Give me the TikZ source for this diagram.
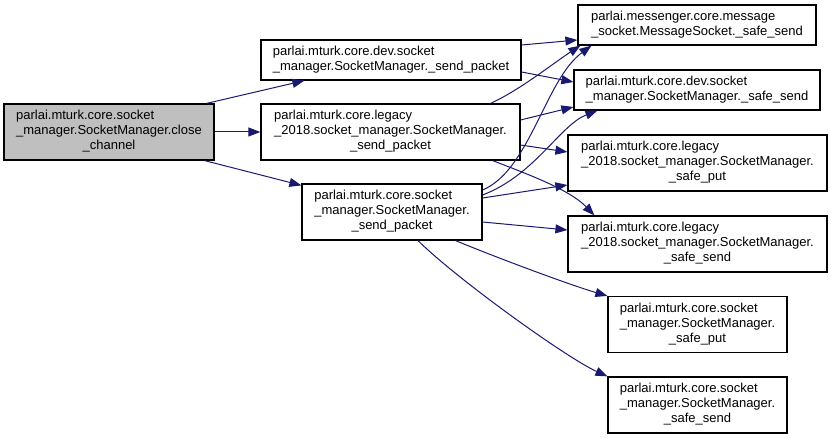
\documentclass[tikz,border=0pt]{standalone}
\usepackage{fontspec}
\setmainfont{Liberation Sans}
\usetikzlibrary{arrows.meta}
\definecolor{edgeblue}{HTML}{191970}
\definecolor{nodegray}{HTML}{BFBFBF}
\newcommand{\twolbl}[2]{\begin{tabular}{@{}l@{}}#1\\#2\end{tabular}}
\newcommand{\threelbl}[3]{\begin{tabular}{@{}l@{}}#1\\#2\\\multicolumn{1}{@{}c@{}}{#3}\end{tabular}}
\begin{document}
\begin{tikzpicture}[x=1pt,y=-1pt,
  font=\fontsize{13}{15}\selectfont,
  box/.style={draw=black, line width=1.2pt, fill=white, inner sep=0pt, rectangle},
  edge/.style={draw=edgeblue, line width=1pt, -{Triangle[length=12pt,width=9pt]}, fill=none}]
\useasboundingbox (0,0) rectangle (831,438);
% nodes
\node[box, fill=nodegray, minimum width=210pt, minimum height=56pt] (A) at (109,132)
  {\threelbl{parlai.mturk.core.socket}{\_manager.SocketManager.close}{\_channel}};
\node[box, minimum width=260pt, minimum height=40pt] (B) at (391,60)
  {\twolbl{parlai.mturk.core.dev.socket}{\_manager.SocketManager.\_send\_packet}};
\node[box, minimum width=259pt, minimum height=56pt] (C) at (390.5,132)
  {\threelbl{parlai.mturk.core.legacy}{\_2018.socket\_manager.SocketManager.}{\_send\_packet}};
\node[box, minimum width=180pt, minimum height=56pt] (D) at (392,212)
  {\threelbl{parlai.mturk.core.socket}{\_manager.SocketManager.}{\_send\_packet}};
\node[box, minimum width=238pt, minimum height=40pt] (E) at (697,25)
  {\twolbl{parlai.messenger.core.message}{\_socket.MessageSocket.\_safe\_send}};
\node[box, minimum width=246pt, minimum height=40pt] (F) at (697,90)
  {\twolbl{parlai.mturk.core.dev.socket}{\_manager.SocketManager.\_safe\_send}};
\node[box, minimum width=259pt, minimum height=56pt] (G) at (697.5,163)
  {\threelbl{parlai.mturk.core.legacy}{\_2018.socket\_manager.SocketManager.}{\_safe\_put}};
\node[box, minimum width=259pt, minimum height=56pt] (H) at (697.5,244)
  {\threelbl{parlai.mturk.core.legacy}{\_2018.socket\_manager.SocketManager.}{\_safe\_send}};
\node[box, minimum width=179pt, minimum height=56pt] (I) at (697.5,324.5)
  {\threelbl{parlai.mturk.core.socket}{\_manager.SocketManager.}{\_safe\_put}};
\node[box, minimum width=179pt, minimum height=56pt] (J) at (697.5,405)
  {\threelbl{parlai.mturk.core.socket}{\_manager.SocketManager.}{\_safe\_send}};
% edges from A
\draw[edge] ([xshift=-8pt]A.north east) -- ([xshift=44pt]B.south west);
\draw[edge] (A.east) -- (C.west);
\draw[edge] ([xshift=-10pt]A.south east) -- ([yshift=-2pt]D.north west);
% edges from B
\draw[edge] ([yshift=15pt]B.east) -- ([yshift=-15pt]E.west);
\draw[edge] ([yshift=-12pt]B.east) -- ([yshift=8pt]F.west);
% edges from C
\draw[edge] ([xshift=-30pt]C.north east) .. controls (520,90) and (555,62) .. ([xshift=3pt]E.south west);
\draw[edge] ([yshift=12pt]C.east) -- ([yshift=-17pt]F.west);
\draw[edge] ([yshift=-13pt]C.east) -- ([yshift=11pt]G.west);
\draw[edge] ([xshift=-28pt]C.south east) .. controls (530,175) and (570,190) .. ([xshift=27pt]H.north west);
% edges from D
\draw[edge] ([yshift=22pt]D.east) .. controls (530,170) and (545,80) .. ([xshift=14pt]E.south west);
\draw[edge] ([yshift=17pt]D.east) .. controls (535,175) and (560,125) .. ([xshift=24pt]F.south west);
\draw[edge] ([yshift=14pt]D.east) -- ([yshift=-22pt]G.west);
\draw[edge] ([yshift=-10pt]D.east) -- ([yshift=14pt]H.west);
\draw[edge] ([xshift=-27pt]D.south east) .. controls (495,257) and (570,285) .. (I.north west);
\draw[edge] ([xshift=26pt]D.south) .. controls (458,280) and (567,358) .. (J.north west);
\end{tikzpicture}
\end{document}
